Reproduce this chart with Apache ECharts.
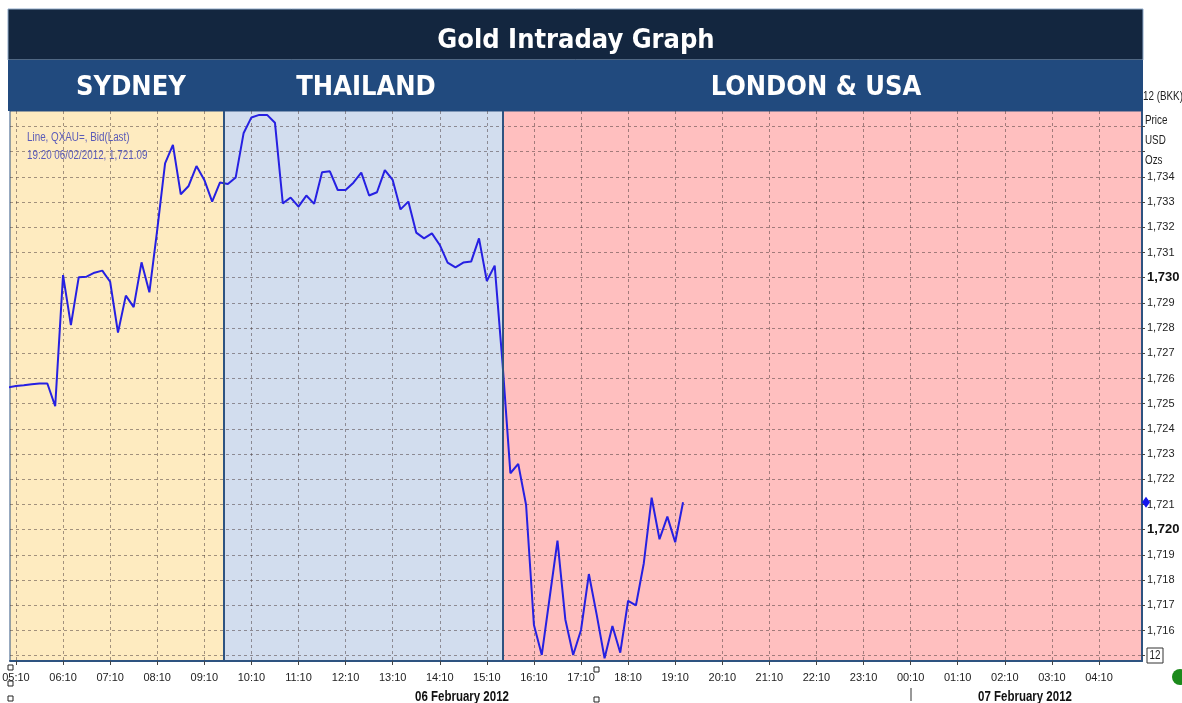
<!DOCTYPE html>
<html>
<head>
<meta charset="utf-8">
<title>Gold Intraday Graph</title>
<script src="https://cdn.jsdelivr.net/npm/echarts@6.0.0/dist/echarts.min.js"></script>
<style>
  html, body { margin: 0; padding: 0; background: #fff; }
  #chart { width: 1182px; height: 703px; }
</style>
</head>
<body>
<div id="chart"></div>
<script>
// 10-minute bid prices, 06 Feb 2012 (Bangkok time)
const times = [
  '05:00', '05:10', '05:20', '05:30', '05:40', '05:50',
  '06:00', '06:10', '06:20', '06:30', '06:40', '06:50',
  '07:00', '07:10', '07:20', '07:30', '07:40', '07:50',
  '08:00', '08:10', '08:20', '08:30', '08:40', '08:50',
  '09:00', '09:10', '09:20', '09:30', '09:40', '09:50',
  '10:00', '10:10', '10:20', '10:30', '10:40', '10:50',
  '11:00', '11:10', '11:20', '11:30', '11:40', '11:50',
  '12:00', '12:10', '12:20', '12:30', '12:40', '12:50',
  '13:00', '13:10', '13:20', '13:30', '13:40', '13:50',
  '14:00', '14:10', '14:20', '14:30', '14:40', '14:50',
  '15:00', '15:10', '15:20', '15:30', '15:40', '15:50',
  '16:00', '16:10', '16:20', '16:30', '16:40', '16:50',
  '17:00', '17:10', '17:20', '17:30', '17:40', '17:50',
  '18:00', '18:10', '18:20', '18:30', '18:40', '18:50',
  '19:00', '19:10', '19:20'
]
const prices = [
  1725.65, 1725.70, 1725.73, 1725.77, 1725.80, 1725.80,
  1724.90, 1730.10, 1728.12, 1730.02, 1730.04, 1730.20,
  1730.28, 1729.84, 1727.82, 1729.29, 1728.83, 1730.61,
  1729.42, 1731.90, 1734.54, 1735.27, 1733.31, 1733.64,
  1734.43, 1733.88, 1733.02, 1733.78, 1733.72, 1733.98,
  1735.73, 1736.36, 1736.46, 1736.46, 1736.15, 1732.95,
  1733.18, 1732.82, 1733.26, 1732.93, 1734.18, 1734.22,
  1733.48, 1733.48, 1733.77, 1734.17, 1733.26, 1733.39,
  1734.27, 1733.88, 1732.71, 1733.02, 1731.79, 1731.56,
  1731.76, 1731.30, 1730.60, 1730.41, 1730.60, 1730.64,
  1731.56, 1729.87, 1730.48, 1726.60, 1722.24, 1722.61,
  1720.98, 1716.22, 1715.03, 1717.30, 1719.57, 1716.44,
  1715.03, 1716.02, 1718.24, 1716.62, 1714.90, 1716.18,
  1715.12, 1717.18, 1717.00, 1718.67, 1721.27, 1719.62,
  1720.52, 1719.50, 1721.09
]

// trading sessions (boundaries in local time)
const sessionNames = ['SYDNEY', 'THAILAND', 'LONDON & USA']
const sessionBreaks = ['09:35', '15:30']
const sessionColors = ['#feebc0', '#d2ddee', '#ffbfbf']

// axis ticks
const xTickLabels = [
  '05:10', '06:10', '07:10', '08:10', '09:10', '10:10', '11:10', '12:10',
  '13:10', '14:10', '15:10', '16:10', '17:10', '18:10', '19:10', '20:10',
  '21:10', '22:10', '23:10', '00:10', '01:10', '02:10', '03:10', '04:10'
]
const yTickLabels = [
  1716, 1717, 1718, 1719, 1720, 1721, 1722, 1723, 1724, 1725,
  1726, 1727, 1728, 1729, 1730, 1731, 1732, 1733, 1734
]
const yGridValues = [
  1715, 1716, 1717, 1718, 1719, 1720, 1721, 1722, 1723, 1724, 1725,
  1726, 1727, 1728, 1729, 1730, 1731, 1732, 1733, 1734, 1735, 1736
]

// hours since 00:00 on 06 Feb; early-morning times belong to the next day
const toHours = t => {
  const [h, m] = t.split(':').map(Number)
  return (h < 5 ? h + 24 : h) + m / 60
}

const X_MIN = 5.04
const X_MAX = 29.08
const Y_MIN = 1714.79
const Y_MAX = 1736.615

const FONT = "'Liberation Sans', Arial, sans-serif"
const FONT_HEAD = "'DejaVu Sans Condensed', 'DejaVu Sans', sans-serif"
const BORDER = '#2e5380'
const GRID_DASH = { color: 'rgba(70, 55, 55, 0.5)', width: 1, type: [3, 3] }
const NARROW = 0.82 // the original uses a narrow face

const lineData = times.map((t, i) => [toHours(t), prices[i]])
const xTicks = xTickLabels.map(toHours)
const breaks = sessionBreaks.map(toHours)
const bounds = [X_MIN, ...breaks, X_MAX]
const lastPrice = prices[prices.length - 1]

const chart = echarts.init(document.getElementById('chart'), null, { renderer: 'canvas' })

const headText = (text, x, y, size) => ({
  type: 'text', x, y, z: 101,
  style: {
    text, fill: '#ffffff', align: 'center', verticalAlign: 'middle',
    font: `bold ${size}px ${FONT_HEAD}`
  }
})
const plainText = (text, x, y, opts = {}) => ({
  type: 'text', x, y, z: 101, scaleX: NARROW,
  style: Object.assign({
    text, fill: '#222', align: 'left', verticalAlign: 'middle',
    font: `12px ${FONT}`
  }, opts)
})
const tinyBox = (x, y) => ({
  type: 'rect', z: 100, shape: { x, y, width: 5, height: 5 },
  style: { fill: '#ffffff', stroke: '#222', lineWidth: 1 }
})

chart.setOption({
  animation: false,
  backgroundColor: '#ffffff',
  grid: {
    left: 10, right: 40, top: 111, bottom: 42,
    show: true, z: 1,
    backgroundColor: 'transparent',
    borderColor: BORDER, borderWidth: 1,
    outerBoundsMode: 'none'
  },
  xAxis: {
    type: 'value', min: X_MIN, max: X_MAX, z: 1,
    axisLine: { show: true, onZero: false, lineStyle: { color: BORDER, width: 2 } },
    axisTick: { show: true, customValues: xTicks, length: 4, lineStyle: { color: '#444' } },
    axisLabel: {
      customValues: xTicks, margin: 11,
      color: '#222', fontSize: 11, fontFamily: FONT,
      formatter: v => {
        const mins = Math.round(v * 60) % 1440
        const h = Math.floor(mins / 60), m = mins % 60
        return String(h).padStart(2, '0') + ':' + String(m).padStart(2, '0')
      }
    },
    splitLine: { show: true, lineStyle: GRID_DASH }
  },
  yAxis: {
    type: 'value', position: 'right', min: Y_MIN, max: Y_MAX, z: 1,
    axisLine: { show: true, lineStyle: { color: BORDER, width: 2 } },
    axisTick: { show: true, customValues: yGridValues, length: 3, lineStyle: { color: '#444' } },
    axisLabel: {
      customValues: yTickLabels, margin: 5,
      color: '#222', fontSize: 11, fontFamily: FONT,
      formatter: v => {
        const s = Number(v).toLocaleString('en-US')
        return v % 10 === 0 ? `{b|${s}}` : s
      },
      rich: { b: { fontWeight: 'bold', fontSize: 13, color: '#111', fontFamily: FONT } }
    },
    splitLine: { show: true, lineStyle: GRID_DASH }
  },
  series: [{
    type: 'line',
    data: lineData,
    symbol: 'none',
    z: 3,
    lineStyle: { color: '#2620e2', width: 2 },
    markArea: {
      silent: true, z: 0,
      data: sessionColors.map((c, i) => [
        { xAxis: bounds[i], itemStyle: { color: c, opacity: 1 } },
        { xAxis: bounds[i + 1] }
      ])
    },
    markLine: {
      silent: true, symbol: ['none', 'none'],
      label: { show: false },
      lineStyle: { color: BORDER, width: 2, type: 'solid' },
      data: breaks.map(b => ({ xAxis: b }))
    },
    markPoint: {
      silent: true, z: 10,
      symbol: 'diamond', symbolSize: [8, 11], symbolOffset: [4, 0],
      itemStyle: { color: '#1414ee' },
      label: { show: false },
      data: [{ coord: [X_MAX, lastPrice] }]
    }
  }],
  graphic: [
    { type: 'rect', z: 100, shape: { x: 8, y: 9, width: 1135, height: 51 },
      style: { fill: '#13263f', stroke: '#8fa9c8', lineWidth: 1 } },
    { type: 'rect', z: 100, shape: { x: 8, y: 60, width: 1135, height: 51 },
      style: { fill: '#214a7e' } },
    headText('Gold Intraday Graph', 576, 41, 27),
    headText(sessionNames[0], 131, 88, 27),
    headText(sessionNames[1], 366, 88, 27),
    headText(sessionNames[2], 816, 88, 27),
    plainText('Line, QXAU=, Bid(Last)', 27, 138, { fill: '#5a5ab8' }),
    plainText('19:20 06/02/2012, ' + lastPrice.toLocaleString('en-US', { minimumFractionDigits: 2 }),
      27, 156, { fill: '#5a5ab8' }),
    plainText('12 (BKK)', 1143, 97),
    plainText('Price', 1145, 121),
    plainText('USD', 1145, 141),
    plainText('Ozs', 1145, 161),
    { type: 'rect', z: 100, shape: { x: 1147, y: 648, width: 16, height: 15 },
      style: { fill: '#ffffff', stroke: '#333', lineWidth: 1 } },
    plainText('12', 1155, 656, { align: 'center' }),
    plainText('06 February 2012', 462, 697, { align: 'center', fill: '#111', font: `bold 14px ${FONT}` }),
    plainText('07 February 2012', 1025, 697, { align: 'center', fill: '#111', font: `bold 14px ${FONT}` }),
    { type: 'line', z: 100, shape: { x1: 911, y1: 688, x2: 911, y2: 701 },
      style: { stroke: '#333', lineWidth: 1 } },
    tinyBox(594, 667),
    tinyBox(594, 697),
    tinyBox(8, 665),
    tinyBox(8, 681),
    tinyBox(8, 696),
    { type: 'circle', z: 100, shape: { cx: 1180, cy: 677, r: 8 },
      style: { fill: '#1b8a1b' } }
  ]
})
</script>
</body>
</html>
